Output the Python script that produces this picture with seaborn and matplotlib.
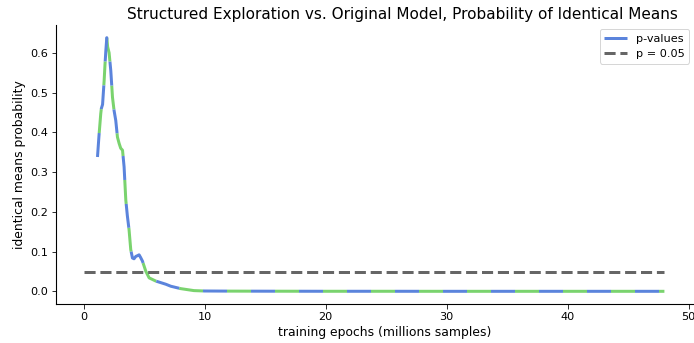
import numpy as np
import pandas as pd
import matplotlib
matplotlib.use("Agg")
import matplotlib.pyplot as plt
import seaborn as sns

# --- data ---
epochs = [1.13, 1.25, 1.4, 1.45, 1.55, 1.68, 1.75, 1.82, 1.9, 1.97, 2.09, 2.23,
          2.37, 2.5, 2.64, 2.78, 2.92, 3.05, 3.2, 3.33, 3.47, 3.6, 3.74, 3.88,
          4.02, 4.15, 4.3, 4.45, 4.57, 4.7, 4.85, 5.12, 5.4, 5.95, 6.78, 7.19,
          8.0, 9.1, 10.0, 12.0, 15.0, 20.0, 25.0, 30.0, 35.0, 40.0, 45.0, 48.0]
p_values = [0.338, 0.39, 0.447, 0.46, 0.47, 0.53, 0.57, 0.605, 0.638, 0.615, 0.6, 0.555,
            0.488, 0.455, 0.43, 0.388, 0.372, 0.36, 0.355, 0.313, 0.23, 0.19, 0.155, 0.105,
            0.084, 0.082, 0.088, 0.09, 0.092, 0.085, 0.076, 0.051, 0.034, 0.026, 0.018, 0.013,
            0.007, 0.002, 0.001, 0.0007, 0.0005, 0.0003, 0.0003, 0.0002, 0.0002, 0.0002, 0.0002, 0.0002]
threshold = 0.05
threshold_span = [0, 48]

df = pd.DataFrame({"epoch": epochs, "p": p_values})

sns.set_style("ticks")
plt.rcParams.update({
    "font.size": 12.4,
    "axes.titlesize": 15.3,
    "axes.labelsize": 12.4,
    "xtick.labelsize": 11.3,
    "ytick.labelsize": 11.3,
    "legend.fontsize": 11.3,
    "xtick.major.size": 4.5,
    "ytick.major.size": 4.5,
    "axes.linewidth": 1.1,
    "text.color": "black",
    "axes.labelcolor": "black",
    "axes.edgecolor": "black",
    "xtick.color": "black",
    "ytick.color": "black",
})

# dpi 72 so that 1 pt = 1 px; the reference is cropped on the right,
# so the axes run a little past the figure edge
fig = plt.figure(figsize=(694 / 72, 343 / 72), dpi=72)
ax = fig.add_axes([56 / 694, 39 / 343, 658 / 694, 279 / 343])

sns.lineplot(data=df, x="epoch", y="p", ax=ax, color="#5b84dc", lw=3,
             linestyle=(0, (8, 8)), label="p-values")
ax.lines[0].set_gapcolor("#7ad36e")
ax.hlines(threshold, threshold_span[0], threshold_span[1], colors="#666666",
          lw=3, linestyles="--", label="p = 0.05")
ax.set_xlim(-2.3, 52.1)

ax.set_xlabel("training epochs (millions samples)")
ax.set_ylabel("identical means probability")
ax.set_title("Structured Exploration vs. Original Model, Probability of Identical Means",
             x=(402 - 56) / 658)
ax.legend(loc="upper right", bbox_to_anchor=(689 / 694, 1 - 29 / 343),
          bbox_transform=fig.transFigure, borderaxespad=0)
sns.despine(ax=ax)

fig.savefig("out.png", dpi=72)
